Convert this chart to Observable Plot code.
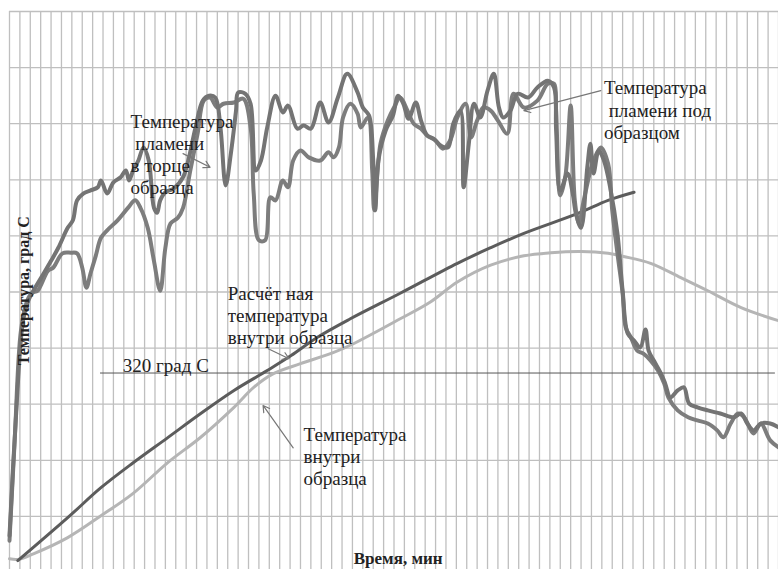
<!DOCTYPE html>
<html><head><meta charset="utf-8">
<script src="https://cdn.jsdelivr.net/npm/d3@7"></script>
<script src="https://cdn.jsdelivr.net/npm/@observablehq/plot@0.6"></script>
<style>body{margin:0;background:#fff}svg{display:block}svg text{font-family:"Liberation Serif","DejaVu Serif",serif !important}</style>
</head><body><div id="chart"></div>
<script>
// Time (min) and temperature (°C) series
const flameEndTime = [0.0,0.6,1.3,1.8,2.3,3.3,4.0,4.7,5.6,6.1,6.5,7.1,7.8,8.5,8.8,9.4,10.0,10.7,11.2,11.5,11.9,12.4,12.9,13.4,13.9,14.2,14.5,15.0,15.8,16.7,17.2,17.9,18.6,19.2,19.8,20.3,20.8,21.3,21.8,22.0,22.7,23.2,23.7,24.2,24.8,25.6,26.3,26.8,27.7,28.3,29.0,29.9,30.7,31.6,32.5,33.5,34.0,34.6,35.0,35.2,35.5,36.2,36.9,37.4,37.9,38.4,39.1,39.6,40.2,40.8,41.5,42.2,42.7,43.4,43.7,44.2,44.7,45.3,46.0,46.6,47.1,47.5,48.2,48.9,49.9,50.8,51.8,52.4,52.6,53.0,53.7,54.2,54.5,55.0,55.6,55.9,56.2,56.7,57.2,57.8,58.5,59.0,59.5,60.1,60.7,61.2,61.5,62.0,62.7,63.1,63.6,64.3,64.9,65.4,66.2,67.2,68.4,69.7,70.4,71.0,71.6,72.3,73.2,74.0];
const flameEndTemp = [59,244,404,436,452,480,500,521,553,565,597,608,613,618,629,608,626,634,645,629,645,661,682,661,585,577,597,610,616,634,661,714,757,765,762,714,621,672,741,770,768,752,645,661,714,765,738,749,712,717,712,754,722,762,800,770,746,733,661,581,661,709,733,765,752,728,754,725,701,696,685,682,720,741,618,688,752,730,773,800,746,730,741,768,762,778,789,778,709,613,640,608,576,553,650,688,640,677,661,618,544,452,383,372,361,390,356,340,319,303,281,292,297,271,265,260,255,249,255,239,228,239,239,233];

const flameUnderTime = [0.0,0.5,1.1,1.7,2.2,2.7,3.7,4.2,5.1,5.9,6.5,7.0,7.4,7.8,8.3,8.8,9.4,10.4,11.4,12.1,12.6,13.3,13.9,14.5,15.0,15.5,16.2,16.7,17.4,18.1,18.7,19.3,20.0,20.6,21.6,22.5,23.2,23.5,24.0,24.6,25.1,25.6,26.3,26.8,27.3,28.0,28.8,29.9,30.7,31.2,31.7,32.1,32.8,33.5,33.8,34.5,34.9,35.1,35.7,36.4,37.0,37.6,38.3,38.9,39.6,40.2,41.0,41.7,42.4,43.1,43.9,44.4,45.0,45.6,46.3,47.0,47.9,48.5,49.5,50.8,51.8,52.4,52.6,53.0,53.5,54.0,54.4,54.8,55.2,55.9,56.2,56.9,57.6,58.0,58.5,59.0,59.3,59.8,60.4,61.0,61.7,62.4,63.0,63.4,64.3,65.3,66.2,67.2,68.1,68.7,69.4,70.1,70.7,71.6,72.3,73.2,74.0];
const flameUnderTemp = [51,212,388,436,449,452,484,489,512,513,512,489,457,480,508,537,549,565,585,597,585,553,500,452,521,560,569,585,645,704,757,762,746,752,754,760,714,608,533,533,602,597,629,618,661,677,666,661,674,666,682,730,752,736,714,730,645,581,688,725,746,762,741,720,712,701,693,680,693,730,752,698,725,746,741,725,704,768,746,757,784,784,741,605,637,749,597,560,592,645,661,682,656,581,512,448,393,377,356,351,340,324,303,281,260,249,244,239,228,217,239,255,249,223,239,212,201];

const calcTime = [0.8,5.6,8.8,11.9,15.2,18.4,21.6,24.8,27.1,29.6,32.8,37.6,43.1,46.3,49.5,54.7,57.6,60.1];
const calcTemp = [19,88,136,176,216,255,292,324,348,377,407,448,496,521,544,576,597,610];

const insideTime = [0.0,0.8,2.3,5.6,8.8,11.9,15.2,18.4,21.6,23.5,25.4,28.0,31.2,33.1,37.6,40.5,43.1,46.3,49.5,52.1,55.0,57.6,59.1,61.7,64.6,67.2,70.4,74.0];
const insideTemp = [22,21,30,56,91,127,176,217,265,297,319,335,353,367,407,434,466,493,508,513,515,512,507,496,473,452,425,404];

const thresholdTemp = 320;
const xGridTicks = d3.range(0, 75, 1);
const yGridTicks = [90,180,270,360,450,540,630,720,810,900];

const zipSeries = (ts, vs) => ts.map((t, i) => ({t, v: vs[i]}));
const flameEnd = zipSeries(flameEndTime, flameEndTemp);
const flameUnder = zipSeries(flameUnderTime, flameUnderTemp);
const calc = zipSeries(calcTime, calcTemp);
const inside = zipSeries(insideTime, insideTemp);

const notes = [
  {t: 11.65, v: 739, text: "Температура\n пламени\nв торце\nобразца"},
  {t: 57.2, v: 792, text: "Температура\n пламени под\nобразцом"},
  {t: 21.0, v: 463, text: "Расчёт ная\nтемпература\nвнутри образца"},
  {t: 28.3, v: 236, text: "Температура\nвнутри\nобразца"}
];
const arrows = [
  {x1: 16.7, y1: 672, x2: 19.3, y2: 650},
  {x1: 56.9, y1: 773, x2: 49.5, y2: 741},
  {x1: 24.9, y1: 359, x2: 26.9, y2: 343},
  {x1: 27.3, y1: 200, x2: 24.4, y2: 268}
];
const serif = "Liberation Serif";

const chart = Plot.plot({
  width: 778, height: 569,
  marginLeft: 9, marginRight: 0, marginTop: 11, marginBottom: 0,
  x: {domain: [0, 74], axis: null},
  y: {domain: [4.8, 900], axis: null},
  style: {fontFamily: serif, background: "#fff"},
  marks: [
    Plot.ruleX(xGridTicks, {stroke: "#bfbfbf", strokeWidth: 1.3}),
    Plot.ruleY(yGridTicks, {stroke: "#bfbfbf", strokeWidth: 1.3}),
    Plot.ruleY([{v: thresholdTemp, a: 8.76, b: 73.7}], {y: "v", x1: "a", x2: "b", stroke: "#555", strokeWidth: 1}),
    Plot.line(inside, {x: "t", y: "v", stroke: "#b5b5b5", strokeWidth: 3, curve: "catmull-rom"}),
    Plot.line(calc, {x: "t", y: "v", stroke: "#5c5c5c", strokeWidth: 3, curve: "catmull-rom"}),
    Plot.line(flameUnder, {x: "t", y: "v", stroke: "#7d7d7d", strokeWidth: 4, curve: "catmull-rom"}),
    Plot.line(flameEnd, {x: "t", y: "v", stroke: "#747474", strokeWidth: 4, curve: "catmull-rom"}),
    Plot.arrow(arrows, {x1: "x1", y1: "y1", x2: "x2", y2: "y2", stroke: "#777", strokeWidth: 1.2, headLength: 9}),
    Plot.text(notes, {x: "t", y: "v", text: "text", textAnchor: "start", lineAnchor: "top", fontFamily: serif, fontSize: 19, lineHeight: 1.16, fill: "#222"}),
    Plot.text([{t: 10.9, v: 321, s: "320 град С"}], {x: "t", y: "v", text: "s", textAnchor: "start", lineAnchor: "bottom", fontFamily: serif, fontSize: 19, fill: "#222"}),
    Plot.text([{t: 37.4, v: 22, s: "Время, мин"}], {x: "t", y: "v", text: "s", fontFamily: serif, fontSize: 17, fontWeight: "bold", fill: "#222"}),
    Plot.text([{t: 1.35, v: 452, s: "Температура, град С"}], {x: "t", y: "v", text: "s", rotate: -90, fontFamily: serif, fontSize: 16, fontWeight: "bold", fill: "#222"})
  ]
});
document.getElementById("chart").append(chart);
</script></body></html>
